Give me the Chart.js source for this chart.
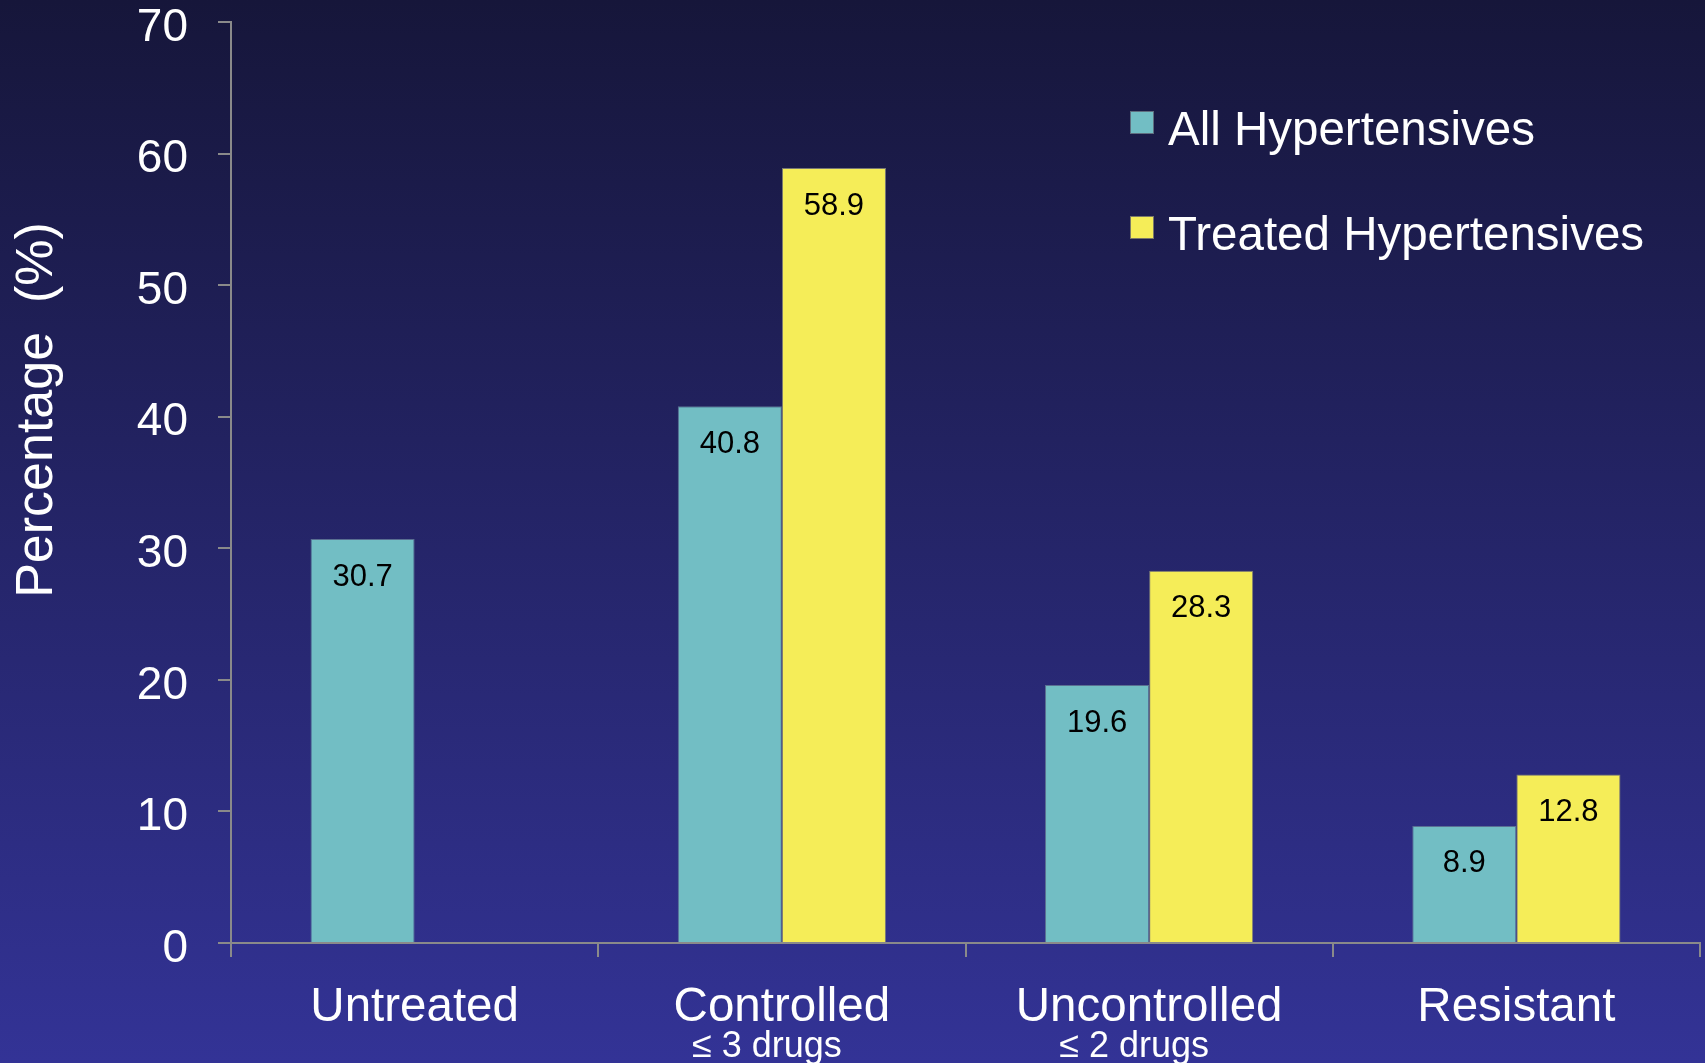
<!DOCTYPE html>
<html>
<head>
<meta charset="utf-8">
<script src="https://cdn.jsdelivr.net/npm/chart.js@4/dist/chart.umd.min.js"></script>
<style>
  html, body { margin: 0; padding: 0; background: #1f1f5c; }
  #wrap { width: 1705px; height: 1063px; }
  canvas { display: block; }
</style>
</head>
<body>
<div id="wrap"><canvas id="chart" width="1705" height="1063"></canvas></div>
<script>
// Hypertension status, percentage of patients
const categories = ['Untreated', 'Controlled', 'Uncontrolled', 'Resistant'];
const subLabels = ['', '\u2264 3 drugs', '\u2264 2 drugs', ''];
const seriesNames = ['All Hypertensives', 'Treated Hypertensives'];
const allHypertensives = [30.7, 40.8, 19.6, 8.9];
const treatedHypertensives = [null, 58.9, 28.3, 12.8];
const yTicks = [0, 10, 20, 30, 40, 50, 60, 70];
const yTitle = 'Percentage  (%)';

const FONT = '"Liberation Sans", Arial, Helvetica, sans-serif';
const AXIS_GREY = '#8a8a8a';
const TEAL = '#72bec4';
const YELLOW = '#f5ed58';

Chart.defaults.font.family = FONT;

// Navy vertical gradient behind everything
const backdrop = {
  id: 'backdrop',
  beforeDraw(chart) {
    const { ctx, width, height } = chart;
    const g = ctx.createLinearGradient(0, 0, 0, height);
    g.addColorStop(0, 'rgb(22,22,58)');
    g.addColorStop(1, 'rgb(51,51,150)');
    ctx.save();
    ctx.fillStyle = g;
    ctx.fillRect(0, 0, width, height);
    ctx.restore();
  }
};

// Value printed inside the top of each bar
const valueLabels = {
  id: 'valueLabels',
  afterDatasetsDraw(chart) {
    const { ctx } = chart;
    ctx.save();
    ctx.font = '31px ' + FONT;
    ctx.fillStyle = '#000';
    ctx.textAlign = 'center';
    ctx.textBaseline = 'middle';
    chart.data.datasets.forEach((ds, di) => {
      const meta = chart.getDatasetMeta(di);
      meta.data.forEach((bar, i) => {
        const v = ds.data[i];
        if (v === null || v === undefined) return;
        ctx.fillText(v.toFixed(1), bar.x, bar.y + 38);
      });
    });
    ctx.restore();
  }
};

// Smaller second line under some category names
const categoryNotes = {
  id: 'categoryNotes',
  afterDraw(chart) {
    const { ctx } = chart;
    const xs = chart.scales.x;
    ctx.save();
    ctx.font = '36px ' + FONT;
    ctx.fillStyle = '#fff';
    ctx.textAlign = 'center';
    ctx.textBaseline = 'alphabetic';
    subLabels.forEach((t, i) => {
      if (!t) return;
      ctx.fillText(t, xs.getPixelForValue(i) - 15, xs.top + 114);
    });
    ctx.restore();
  }
};

// Stacked legend in the upper right of the plot
const sideLegend = {
  id: 'sideLegend',
  afterDraw(chart) {
    const { ctx, chartArea } = chart;
    const x0 = chartArea.right - 570;
    const y0 = chartArea.top + 89;
    ctx.save();
    ctx.font = '47.5px ' + FONT;
    ctx.textAlign = 'left';
    ctx.textBaseline = 'alphabetic';
    chart.data.datasets.forEach((ds, i) => {
      const y = y0 + i * 105;
      ctx.fillStyle = ds.backgroundColor;
      ctx.fillRect(x0, y, 24, 23);
      ctx.strokeStyle = 'rgba(90,90,110,0.8)';
      ctx.lineWidth = 1;
      ctx.strokeRect(x0 + 0.5, y + 0.5, 23, 22);
      ctx.fillStyle = '#fff';
      ctx.fillText(ds.label, x0 + 38, y + 34);
    });
    ctx.restore();
  }
};

// Rotated y-axis title
const yAxisTitle = {
  id: 'yAxisTitle',
  afterDraw(chart) {
    const { ctx, chartArea } = chart;
    ctx.save();
    ctx.translate(chartArea.left - 193, chartArea.top + 388);
    ctx.rotate(-Math.PI / 2);
    ctx.font = '52px ' + FONT;
    ctx.fillStyle = '#fff';
    ctx.textAlign = 'center';
    ctx.textBaseline = 'middle';
    ctx.fillText(yTitle, 0, 0);
    ctx.restore();
  }
};

new Chart(document.getElementById('chart'), {
  type: 'bar',
  data: {
    labels: categories,
    datasets: [
      {
        label: seriesNames[0],
        data: allHypertensives,
        backgroundColor: TEAL,
        borderColor: 'rgba(95,120,150,0.9)',
        borderWidth: 1,
        categoryPercentage: 0.567,
        barPercentage: 1
      },
      {
        label: seriesNames[1],
        data: treatedHypertensives,
        backgroundColor: YELLOW,
        borderColor: 'rgba(130,130,120,0.9)',
        borderWidth: 1,
        categoryPercentage: 0.567,
        barPercentage: 1
      }
    ]
  },
  options: {
    responsive: false,
    animation: false,
    layout: { padding: { top: 22, right: 5, left: 0, bottom: 0 } },
    plugins: {
      legend: { display: false },
      tooltip: { enabled: false }
    },
    scales: {
      x: {
        grid: {
          offset: true,
          drawOnChartArea: false,
          drawTicks: true,
          tickLength: 14,
          tickColor: AXIS_GREY,
          lineWidth: 2
        },
        border: { display: true, color: AXIS_GREY, width: 2 },
        ticks: {
          color: '#fff',
          font: { size: 47.5 },
          padding: 22,
          autoSkip: false,
          maxRotation: 0
        },
        afterFit(scale) {
          scale.height = 120;
          scale.paddingLeft = 0;
          scale.paddingRight = 0;
        }
      },
      y: {
        min: 0,
        max: 70,
        afterBuildTicks(scale) {
          scale.ticks = yTicks.map(v => ({ value: v }));
        },
        grid: {
          drawOnChartArea: false,
          drawTicks: true,
          tickLength: 13,
          tickColor: AXIS_GREY,
          lineWidth: 2
        },
        border: { display: true, color: AXIS_GREY, width: 2 },
        ticks: {
          color: '#fff',
          font: { size: 46 },
          padding: 30,
          labelOffset: 6
        },
        afterFit(scale) {
          scale.width = 231;
          scale.paddingTop = 0;
          scale.paddingBottom = 0;
        }
      }
    }
  },
  plugins: [backdrop, valueLabels, categoryNotes, sideLegend, yAxisTitle]
});
</script>
</body>
</html>
